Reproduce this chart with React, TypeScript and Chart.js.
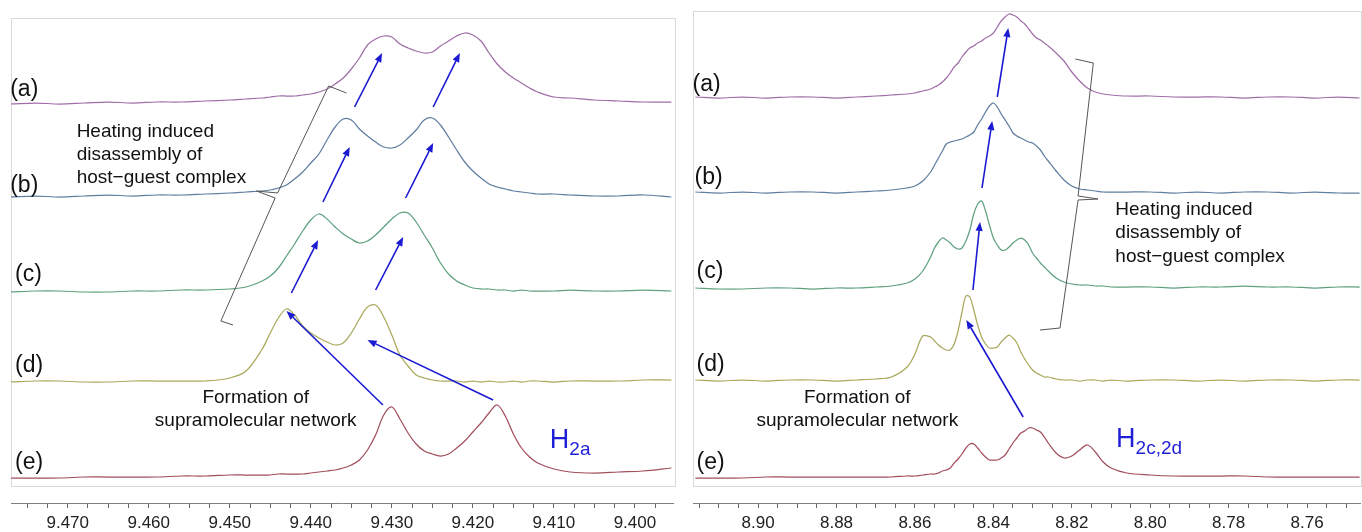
import React, { useEffect, useRef } from 'react';
import { Chart, registerables } from 'chart.js';

Chart.register(...registerables);

const FONT = "'Liberation Sans', Arial, Helvetica, sans-serif";

// ---------- shared trace meta ----------
const traceLabels = ['(a)', '(b)', '(c)', '(d)', '(e)'];
const traceColors = ['#a06ea8', '#5f7ea0', '#5fa07e', '#a9a95c', '#a24e5c'];

// ---------- left panel (H2a) ----------
const ppmLeft = [
  9.477, 9.474, 9.471, 9.468, 9.465, 9.462, 9.459, 9.456, 9.453, 9.45,
  9.448, 9.446, 9.445, 9.444, 9.443, 9.442, 9.441, 9.44, 9.439, 9.438,
  9.437, 9.436, 9.435, 9.434, 9.433, 9.432, 9.431, 9.43, 9.429, 9.428,
  9.427, 9.426, 9.425, 9.424, 9.423, 9.422, 9.421, 9.42, 9.419, 9.418,
  9.417, 9.416, 9.415, 9.414, 9.413, 9.412, 9.41, 9.408, 9.405, 9.402,
  9.399, 9.3955,
];
const leftA = [
  -1, 0, -1, 0, 1, 0, 1, 1, 2, 3, 4, 5, 6, 7, 7, 7, 8, 9, 11, 14,
  19, 25, 34, 45, 58, 64, 67, 66, 59, 55, 52, 50, 51, 57, 62, 67, 70, 68, 62, 50,
  39, 31, 25, 20, 15, 11, 6, 5, 3, 2, 1, 1,
];
const leftB = [
  -1, 0, -1, 0, 1, 0, 1, 1, 2, 3, 4, 5, 6, 8, 11, 17, 24, 33, 42, 56,
  69, 77, 76, 67, 60, 54, 49, 48, 51, 58, 66, 76, 78, 71, 59, 46, 34, 25, 18, 12,
  9, 7, 5, 4, 3, 2, 2, 1, 0, 0, 1, -1,
];
const leftC = [
  -1, 0, 0, -1, -1, 0, 0, 1, 1, 2, 4, 10, 15, 23, 35, 47, 60, 71, 77, 72,
  64, 57, 52, 48, 50, 56, 64, 72, 78, 78, 69, 56, 43, 28, 17, 10, 6, 3, 2, 2,
  1, 1, 0, 1, 0, 0, 0, 1, 0, 0, 1, 0,
];
const leftD = [
  -1, 0, 0, -1, -1, 0, 0, 0, 0, 3, 10, 32, 48, 63, 72, 66, 55, 48, 43, 39,
  36, 38, 48, 62, 74, 76, 64, 46, 26, 15, 6, 3, 1, 0, 0, 0, -1, 0, -1, 0,
  -1, -1, 0, -1, 0, 0, -1, 0, 0, 0, 1, 1,
];
const leftE = [
  -1, -1, -1, 0, 0, 0, 0, 1, 1, 2, 2, 2, 2, 3, 3, 3, 3, 4, 5, 6,
  7, 9, 12, 17, 27, 42, 62, 70, 58, 44, 33, 26, 23, 21, 23, 29, 36, 45, 54, 64,
  72, 61, 43, 29, 20, 14, 8, 5, 4, 5, 6, 9,
];
const leftOffsets = [400, 307, 212, 122, 26];

// ---------- right panel (H2c,2d) ----------
const ppmRight = [
  8.916, 8.91, 8.904, 8.898, 8.892, 8.886, 8.88, 8.875, 8.87, 8.866, 8.862, 8.86, 8.858,
  8.856, 8.855, 8.854, 8.853, 8.852, 8.851, 8.85, 8.849, 8.848, 8.847, 8.846, 8.845, 8.844,
  8.843, 8.842, 8.841, 8.84, 8.839, 8.838, 8.837, 8.836, 8.835, 8.834, 8.833, 8.832, 8.831,
  8.83, 8.829, 8.828, 8.827, 8.826,
  8.824, 8.822, 8.82, 8.818, 8.816, 8.814, 8.812, 8.81, 8.806, 8.8, 8.794, 8.788, 8.782,
  8.776, 8.77, 8.764, 8.758, 8.752, 8.7466,
];
const rightA = [
  0, -1, 0, -1, 0, 0, -1, 0, 1, 2, 3, 4, 6,
  8, 10, 12, 15, 19, 24, 30, 34, 40, 45, 49, 51, 54, 56, 59, 61, 64, 70, 76, 80, 83, 82, 80,
  76, 73, 68, 63, 59, 57, 54, 51,
  44, 36, 25, 16, 9, 5, 3, 2, 1, 1, 0, 0, 0, -1, 0, 0, -1, 0, -1,
];
const rightB = [
  0, -1, 0, -1, 0, 0, -1, 0, 1, 2, 4, 6, 11,
  20, 27, 34, 41, 48, 50, 51, 52, 53, 55, 57, 60, 67, 73, 80, 86, 89, 85, 78, 72, 66, 59, 56,
  54, 52, 50, 49, 46, 42, 36, 31,
  21, 12, 6, 3, 2, 1, 0, 0, 0, 0, -1, 0, -1, 0, 0, -1, 0, -1, -1,
];
const rightC = [
  0, -1, -1, 0, 0, -1, 0, 0, 1, 2, 5, 9, 17,
  31, 40, 46, 50, 48, 45, 41, 39, 40, 47, 58, 74, 84, 87, 77, 63, 50, 43, 38, 38, 41, 45, 48,
  50, 48, 43, 35, 30, 25, 21, 17,
  10, 6, 4, 3, 3, 2, 2, 1, 1, 1, 0, 1, 1, 2, 1, 1, 0, 1, 1,
];
const rightD = [
  0, -1, 0, -1, 0, 0, -1, 0, 1, 3, 13, 26, 44,
  43, 39, 35, 32, 30, 30, 36, 49, 68, 84, 83, 70, 55, 43, 36, 32, 32, 33, 38, 42, 45, 42, 37,
  28, 21, 15, 10, 7, 5, 3, 3,
  1, 0, 0, -1, 0, 0, -1, 0, -1, 0, 0, -1, 0, -1, 0, 0, -1, 0, 0,
];
const rightE = [
  -1, -1, -1, 0, 0, 0, 0, 0, 0, 0, 1, 1, 2,
  3, 3, 4, 6, 7, 9, 14, 18, 23, 29, 33, 33, 29, 24, 20, 17, 17, 17, 19, 22, 28, 34, 39,
  44, 46, 49, 49, 47, 45, 40, 34,
  24, 19, 21, 27, 32, 25, 15, 9, 4, 2, 1, 1, 1, 1, 0, 0, 0, 0, 0,
];
const rightOffsets = [406, 311, 215, 123, 26];

// ---------- axis ranges / ticks ----------
const leftRange = { min: 9.3953, max: 9.477, step: 0.0025, major: 0.01, decimals: 3 };
const rightRange = { min: 8.7465, max: 8.9166, step: 0.005, major: 0.02, decimals: 2 };

// ---------- annotations (data coordinates: ppm, stacked intensity) ----------
const leftAnn = {
  frame: { x0: 9.477, x1: 9.3949, yTop: 485, yBottom: 17 },
  labels: [
    [9.4771, 413], [9.4771, 317], [9.4765, 228], [9.4765, 137], [9.4765, 40],
  ],
  arrows: [
    [9.4346, 396, 9.4312, 450],
    [9.4249, 396, 9.4216, 450],
    [9.4385, 301, 9.4352, 356],
    [9.4283, 305, 9.4249, 360],
    [9.4424, 210, 9.4391, 263],
    [9.432, 213, 9.4286, 266],
    [9.4311, 98, 9.443, 192],
    [9.4175, 103, 9.433, 163],
  ],
  brace: [
    [9.4356, 410], [9.4378, 417], [9.4441, 310], [9.4467, 312], [9.4444, 305], [9.4511, 182], [9.4496, 178],
  ],
  heating: { x: 9.4689, y: [371, 348, 325] },
  formation: { x: 9.4468, y: [105, 82] },
  proton: { x: 9.4105, y: 55, main: 'H', sub: '2a' },
};
const rightAnn = {
  frame: { x0: 8.9166, x1: 8.7459, yTop: 492, yBottom: 17 },
  labels: [
    [8.9167, 418], [8.9162, 325], [8.9157, 231], [8.9157, 138], [8.9157, 40],
  ],
  arrows: [
    [8.839, 406, 8.8362, 475],
    [8.8429, 315, 8.8403, 382],
    [8.8452, 213, 8.8434, 281],
    [8.8324, 86, 8.8469, 183],
  ],
  brace: [
    [8.8191, 444], [8.8145, 440], [8.8184, 307], [8.8133, 304], [8.8184, 303], [8.823, 175], [8.8281, 173],
  ],
  heating: { x: 8.8089, y: [293, 270, 246] },
  formation: { x: 8.8747, y: [105, 82] },
  proton: { x: 8.8087, y: 56, main: 'H', sub: '2c,2d' },
};

const heatingLines = ['Heating induced', 'disassembly of', 'host\u2212guest complex'];
const formationLines = ['Formation of', 'supramolecular network'];

function drawArrow(ctx: CanvasRenderingContext2D, x1: number, y1: number, x2: number, y2: number) {
  const ang = Math.atan2(y2 - y1, x2 - x1);
  const L = 9;
  const W = 3.6;
  const bx = x2 - L * Math.cos(ang);
  const by = y2 - L * Math.sin(ang);
  ctx.beginPath();
  ctx.moveTo(x1, y1);
  ctx.lineTo(bx, by);
  ctx.stroke();
  ctx.beginPath();
  ctx.moveTo(x2, y2);
  ctx.lineTo(bx + W * Math.sin(ang), by - W * Math.cos(ang));
  ctx.lineTo(bx - W * Math.sin(ang), by + W * Math.cos(ang));
  ctx.closePath();
  ctx.fill();
}

function makeAnnotationPlugin(ann: any) {
  return {
    id: 'nmrAnnotations',
    beforeDatasetsDraw(chart: any) {
      const { ctx, scales } = chart;
      const xs = scales.x;
      const ys = scales.y;
      const l = Math.round(xs.getPixelForValue(ann.frame.x0)) + 0.5;
      const r = Math.round(xs.getPixelForValue(ann.frame.x1)) - 0.5;
      const t = Math.round(ys.getPixelForValue(ann.frame.yTop)) + 0.5;
      const b = Math.round(ys.getPixelForValue(ann.frame.yBottom)) + 0.5;
      ctx.save();
      ctx.strokeStyle = '#d9d9d9';
      ctx.lineWidth = 1;
      ctx.strokeRect(l, t, r - l, b - t);
      ctx.restore();
    },
    afterDatasetsDraw(chart: any) {
      const { ctx, scales } = chart;
      const X = (v: number) => scales.x.getPixelForValue(v);
      const Y = (v: number) => scales.y.getPixelForValue(v);
      ctx.save();

      // trace labels
      ctx.fillStyle = '#111';
      ctx.font = `23px ${FONT}`;
      ctx.textAlign = 'left';
      ctx.textBaseline = 'middle';
      ann.labels.forEach((p: number[], i: number) => {
        ctx.fillText(traceLabels[i], X(p[0]), Y(p[1]));
      });

      // brace
      ctx.strokeStyle = '#555';
      ctx.lineWidth = 1;
      ctx.beginPath();
      ann.brace.forEach((p: number[], i: number) => {
        if (i === 0) ctx.moveTo(X(p[0]), Y(p[1]));
        else ctx.lineTo(X(p[0]), Y(p[1]));
      });
      ctx.stroke();

      // arrows
      ctx.strokeStyle = '#1a1ad2';
      ctx.fillStyle = '#1a1ad2';
      ctx.lineWidth = 1.6;
      ann.arrows.forEach((a: number[]) => drawArrow(ctx, X(a[0]), Y(a[1]), X(a[2]), Y(a[3])));

      // texts
      ctx.fillStyle = '#111';
      ctx.font = `19px ${FONT}`;
      ctx.textBaseline = 'middle';
      ctx.textAlign = 'left';
      heatingLines.forEach((s, i) => ctx.fillText(s, X(ann.heating.x), Y(ann.heating.y[i])));
      ctx.textAlign = 'center';
      formationLines.forEach((s, i) => ctx.fillText(s, X(ann.formation.x), Y(ann.formation.y[i])));

      // proton label with subscript
      ctx.fillStyle = '#1f1fd6';
      ctx.textAlign = 'left';
      ctx.textBaseline = 'alphabetic';
      ctx.font = `27px ${FONT}`;
      const px = X(ann.proton.x);
      const py = Y(ann.proton.y);
      ctx.fillText(ann.proton.main, px, py);
      const w = ctx.measureText(ann.proton.main).width;
      ctx.font = `19px ${FONT}`;
      ctx.fillText(ann.proton.sub, px + w, py + 7);

      ctx.restore();
    },
  };
}

function buildConfig(ppm: number[], series: number[][], offsets: number[], range: any, ann: any, padL: number, padR: number) {
  const isMajor = (v: number) => Math.abs(v / range.major - Math.round(v / range.major)) < 1e-6;
  return {
    type: 'line' as const,
    data: {
      datasets: series.map((vals, i) => ({
        label: traceLabels[i],
        data: ppm.map((p, j) => ({ x: p, y: offsets[i] + vals[j] })),
        borderColor: traceColors[i],
        borderWidth: 1.25,
        pointRadius: 0,
        tension: 0.35,
        fill: false,
      })),
    },
    options: {
      responsive: false,
      animation: false as const,
      events: [],
      layout: { padding: { left: padL, right: padR, top: 0, bottom: 0 } },
      plugins: { legend: { display: false }, tooltip: { enabled: false } },
      scales: {
        x: {
          type: 'linear' as const,
          position: 'bottom' as const,
          reverse: true,
          min: range.min,
          max: range.max,
          ticks: {
            stepSize: range.step,
            includeBounds: false,
            autoSkip: false,
            maxRotation: 0,
            padding: 4.8,
            color: '#222',
            font: { family: FONT, size: 17 },
            callback: (v: any) => (isMajor(Number(v)) ? Number(v).toFixed(range.decimals) : ''),
          },
          grid: { display: true, drawOnChartArea: false, drawTicks: true, tickLength: 5, color: '#666' },
          border: { display: true, color: '#808080', width: 1 },
        },
        y: { type: 'linear' as const, display: false, min: 0, max: 503 },
      },
    },
    plugins: [makeAnnotationPlugin(ann)],
  };
}

const CANVAS_H = 538;

function Panel(props: { left: number; width: number; cfg: () => any }) {
  const ref = useRef<HTMLCanvasElement>(null);
  useEffect(() => {
    if (!ref.current) return;
    const chart = new Chart(ref.current, props.cfg());
    return () => chart.destroy();
  }, []);
  return (
    <canvas
      ref={ref}
      width={props.width}
      height={CANVAS_H}
      style={{ position: 'absolute', left: props.left, top: 0, width: props.width, height: CANVAS_H }}
    />
  );
}

export default function App() {
  return (
    <div
      style={{
        position: 'fixed',
        left: 0,
        top: 0,
        width: 1362,
        height: 532,
        overflow: 'hidden',
        background: '#fff',
      }}
    >
      <Panel
        left={0}
        width={680}
        cfg={() =>
          buildConfig(ppmLeft, [leftA, leftB, leftC, leftD, leftE], leftOffsets, leftRange, leftAnn, 11, 7)
        }
      />
      <Panel
        left={680}
        width={682}
        cfg={() =>
          buildConfig(ppmRight, [rightA, rightB, rightC, rightD, rightE], rightOffsets, rightRange, rightAnn, 13, 2)
        }
      />
    </div>
  );
}
